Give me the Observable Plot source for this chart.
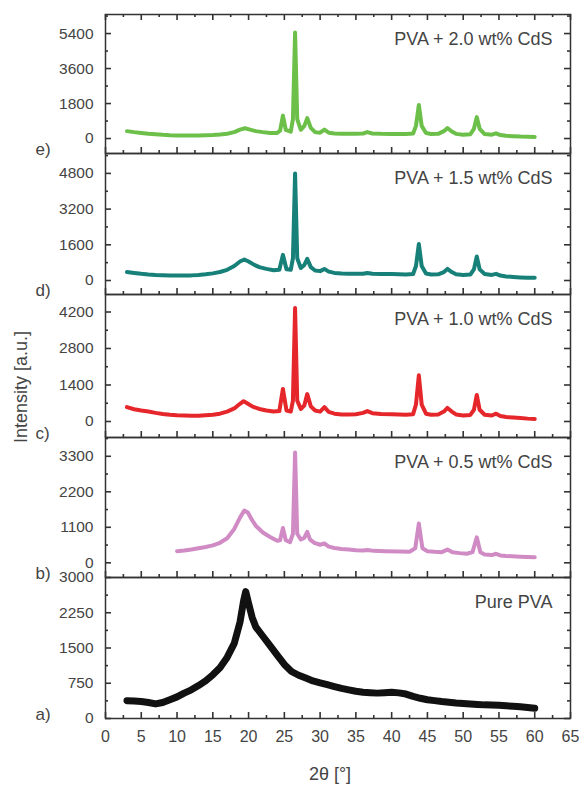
<!DOCTYPE html>
<html>
<head>
<meta charset="utf-8">
<script src="https://cdn.jsdelivr.net/npm/d3@7"></script>
<script src="https://cdn.jsdelivr.net/npm/@observablehq/plot@0.6"></script>
<style>
  body { margin: 0; background: #fff; font-family: "Liberation Sans", Arial, sans-serif; }
  #wrap { position: relative; width: 579px; height: 785px; overflow: hidden; }
  .panel { position: absolute; left: 0; }
  #ytitle { position: absolute; left: 21px; top: 387px; transform: translate(-50%, -50%) rotate(-90deg);
            font-size: 18px; color: #444; white-space: nowrap; }
</style>
</head>
<body>
<div id="wrap"><div id="ytitle">Intensity [a.u.]</div></div>
<script>
// ---- data (2θ in degrees, intensity in a.u.) ----
const pvaPure = [[3,380],[4,370],[5,360],[6,340],[7,310],[8,340],[9,400],[10,460],[11,540],[12,610],[13,700],[14,800],[15,930],[16,1080],[17,1300],[18,1600],[18.8,2050],[19.3,2500],[19.6,2700],[20,2450],[20.5,2150],[21,1950],[22,1750],[23,1550],[24,1350],[25,1150],[26,1000],[27,920],[28,860],[29,800],[30,760],[31,720],[32,680],[33,640],[34,610],[35,580],[36,560],[37,550],[38,540],[39,550],[40,560],[41,545],[42,520],[43,470],[44,430],[45,400],[46,380],[47,360],[48,345],[49,330],[50,320],[51,310],[52,300],[53,290],[54,285],[55,280],[56,270],[57,260],[58,250],[59,235],[60,220]];

const pva05 = [[10,360],[11,380],[12,410],[13,450],[14,490],[15,540],[16,620],[17,760],[18,1050],[18.8,1400],[19.4,1620],[19.9,1560],[20.5,1320],[21,1150],[22,940],[23,800],[24,680],[24.4,700],[24.8,1080],[25.2,700],[25.8,640],[26.2,900],[26.5,3420],[26.8,900],[27.3,720],[27.8,780],[28.2,960],[28.6,720],[29.2,620],[30,560],[30.6,600],[31.2,500],[32,460],[33,430],[34,410],[35,390],[36,380],[36.6,400],[37.5,370],[39,360],[41,350],[42.5,345],[43.3,450],[43.8,1220],[44.3,450],[45,360],[46,340],[47,330],[47.8,410],[48.5,330],[49.5,300],[50.5,280],[51.3,330],[51.9,790],[52.4,330],[53,260],[54,240],[54.6,280],[55.2,230],[56,210],[58,190],[60,175]];

const pva10 = [[3,550],[4,470],[5,420],[6,380],[7,330],[8,290],[9,260],[10,240],[11,230],[12,220],[13,220],[14,240],[15,260],[16,300],[17,380],[18,500],[18.8,680],[19.3,780],[19.8,700],[20.5,580],[21.5,480],[22.5,420],[23.5,380],[24.3,400],[24.8,1250],[25.3,420],[25.9,380],[26.2,800],[26.5,4350],[26.8,800],[27.3,480],[27.8,620],[28.2,1050],[28.7,580],[29.3,420],[30,380],[30.6,550],[31.2,370],[32,300],[33,270],[34,270],[35,280],[36,330],[36.6,400],[37.3,320],[38.5,290],[40,280],[41,270],[42,260],[43,280],[43.4,650],[43.8,1770],[44.2,650],[44.8,300],[45.5,260],[46.5,270],[47.3,380],[47.8,520],[48.4,380],[49,270],[50,230],[51,250],[51.5,450],[51.9,1020],[52.3,450],[53,260],[54,230],[54.6,300],[55.2,210],[56,170],[57,150],[58,130],[59,110],[60,100]];

const pva15 = [[3,380],[4,340],[5,300],[6,270],[7,250],[8,240],[9,230],[10,225],[11,220],[12,230],[13,250],[14,280],[15,320],[16,380],[17,480],[18,650],[18.8,850],[19.4,940],[20,850],[20.8,700],[21.5,600],[22.5,520],[23.5,460],[24.3,480],[24.8,1150],[25.3,500],[25.9,480],[26.2,1000],[26.5,4800],[26.8,1000],[27.3,560],[27.8,700],[28.2,970],[28.7,600],[29.3,450],[30,420],[30.6,520],[31.2,400],[32,340],[33,310],[34,300],[35,300],[36,300],[36.6,340],[37.3,300],[38.5,290],[40,290],[41,280],[42,270],[43,290],[43.4,650],[43.8,1640],[44.2,650],[44.8,310],[45.5,270],[46.5,280],[47.3,380],[47.8,520],[48.4,380],[49,280],[50,250],[51,270],[51.5,500],[51.9,1080],[52.3,500],[53,290],[54,250],[54.6,300],[55.2,220],[56,180],[57,160],[58,140],[59,125],[60,120]];

const pva20 = [[3,380],[4,330],[5,290],[6,250],[7,220],[8,190],[9,170],[10,160],[11,150],[12,150],[13,155],[14,165],[15,180],[16,210],[17,250],[18,330],[18.8,460],[19.5,530],[20.2,460],[21,380],[22,330],[23,290],[24,290],[24.4,400],[24.8,1180],[25.2,450],[25.9,350],[26.2,1000],[26.5,5450],[26.8,1000],[27.3,450],[27.8,650],[28.2,1050],[28.7,550],[29.3,330],[30,300],[30.6,460],[31.2,300],[32,260],[33,240],[34,240],[35,250],[36,260],[36.6,330],[37.3,260],[38.5,240],[40,230],[41,230],[42,230],[43,260],[43.4,650],[43.8,1720],[44.2,650],[44.8,280],[45.5,230],[46.5,240],[47.3,380],[47.8,540],[48.4,360],[49,240],[50,200],[51,220],[51.5,500],[51.9,1100],[52.3,500],[53,230],[54,200],[54.6,270],[55.2,180],[56,140],[57,120],[58,100],[59,90],[60,80]];

// ---- tick labels ----
const xTicks = [0,5,10,15,20,25,30,35,40,45,50,55,60,65];
const xMinor = [2.5,7.5,12.5,17.5,22.5,27.5,32.5,37.5,42.5,47.5,52.5,57.5,62.5];
const yTicksE = [0,1800,3600,5400], yMinorE = [900,2700,4500,6300];
const yTicksD = [0,1600,3200,4800], yMinorD = [800,2400,4000,5600];
const yTicksC = [0,1400,2800,4200], yMinorC = [700,2100,3500];
const yTicksB = [0,1100,2200,3300], yMinorB = [550,1650,2750,3850];
const yTicksA = [0,750,1500,2250,3000], yMinorA = [375,1125,1875,2625];

const names = ["PVA + 2.0 wt% CdS","PVA + 1.5 wt% CdS","PVA + 1.0 wt% CdS","PVA + 0.5 wt% CdS","Pure PVA"];
const tags = ["e)","d)","c)","b)","a)"];
const colors = ["#6cc04a","#178079","#e5262b","#d08bc5","#111111"];

const panels = [
  {data: pva20, ticks: yTicksE, minor: yMinorE, domain: [-770, 6380], top: 14, bottom: 153},
  {data: pva15, ticks: yTicksD, minor: yMinorD, domain: [-627, 5692], top: 153, bottom: 294},
  {data: pva10, ticks: yTicksC, minor: yMinorC, domain: [-614, 4871], top: 294, bottom: 437},
  {data: pva05, ticks: yTicksB, minor: yMinorB, domain: [-455, 3882], top: 437, bottom: 577},
  {data: pvaPure, ticks: yTicksA, minor: yMinorA, domain: [0, 3000], top: 577, bottom: 718}
];

const W = 579, ML = 105, MR = 9, PAD = 20;
const innerW = W - ML - MR;
const ink = "#333";
const wrap = document.getElementById("wrap");
const fmt = d3.format("d");

panels.forEach((p, i) => {
  const last = i === panels.length - 1, first = i === 0;
  const innerH = p.bottom - p.top;
  const mb = last ? 67 : PAD;
  const rows = p.data.map(([x, y]) => ({x, y}));
  const marks = [
    Plot.line(rows, {x: "x", y: "y", stroke: colors[i], strokeWidth: last ? 7 : 4, strokeLinejoin: "round", strokeLinecap: "round"}),
    Plot.frame({stroke: ink, strokeWidth: 1.5}),
    Plot.tickX(xTicks, {x: d => d, insetTop: innerH - 6, stroke: ink, strokeWidth: 1.6}),
    Plot.tickX(xMinor, {x: d => d, insetTop: innerH - 3, stroke: ink, strokeWidth: 1.6}),
    Plot.tickY(p.ticks, {y: d => d, insetRight: innerW - 6, stroke: ink, strokeWidth: 1.6}),
    Plot.tickY(p.minor, {y: d => d, insetRight: innerW - 3, stroke: ink, strokeWidth: 1.6}),
    Plot.tickY(p.ticks, {y: d => d, insetLeft: innerW - 6, stroke: ink, strokeWidth: 1.6}),
    Plot.tickY(p.minor, {y: d => d, insetLeft: innerW - 3, stroke: ink, strokeWidth: 1.6}),
    Plot.axisY(p.ticks, {tickSize: 0, tickPadding: 12, tickFormat: fmt, label: null, fontSize: 15.5, fill: "#444"}),
    Plot.text([tags[i]], {frameAnchor: "bottom-left", dx: -70, dy: -4, textAnchor: "start", lineAnchor: "middle", fontSize: 17, fill: "#444"}),
    Plot.text([names[i]], {frameAnchor: "top-right", dx: -18, dy: 25, textAnchor: "end", lineAnchor: "middle", fontSize: 18, fill: "#444"})
  ];
  if (first) {
    marks.push(Plot.tickX(xTicks, {x: d => d, insetBottom: innerH - 6, stroke: ink, strokeWidth: 1.6}));
    marks.push(Plot.tickX(xMinor, {x: d => d, insetBottom: innerH - 3, stroke: ink, strokeWidth: 1.6}));
  }
  if (last) {
    marks.push(Plot.axisX(xTicks, {tickSize: 0, tickPadding: 12, tickFormat: fmt, label: null, fontSize: 16, fill: "#444"}));
    marks.push(Plot.text(["2θ [°]"], {frameAnchor: "bottom", dx: -8, dy: 56, lineAnchor: "middle", fontSize: 18, fill: "#444"}));
  }
  const chart = Plot.plot({
    width: W,
    height: innerH + PAD + mb,
    marginLeft: ML, marginRight: MR, marginTop: PAD, marginBottom: mb,
    style: {background: "transparent", overflow: "visible", fontFamily: "'Liberation Sans', Arial, sans-serif", fontSize: "16px", color: "#444"},
    x: {domain: [0, 65], axis: last ? undefined : null},
    y: {domain: p.domain},
    marks
  });
  chart.classList.add("panel");
  chart.style.top = (p.top - PAD) + "px";
  wrap.appendChild(chart);
});
</script>
</body>
</html>
